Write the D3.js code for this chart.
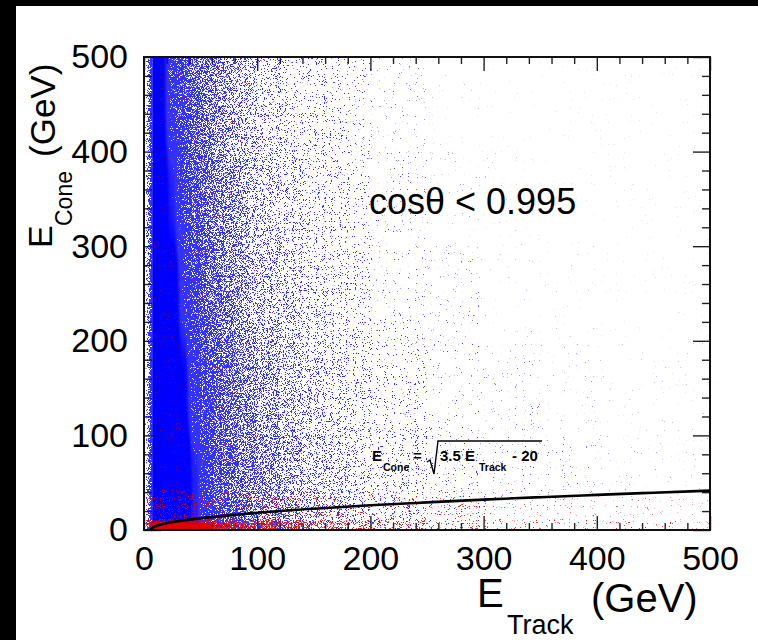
<!DOCTYPE html>
<html>
<head>
<meta charset="utf-8">
<script src="https://cdn.jsdelivr.net/npm/d3@7"></script>
<style>
body { margin: 0; background: #000; }
svg { display: block; }
text { font-family: "Liberation Sans", Arial, Helvetica, sans-serif; fill: #000; }
</style>
</head>
<body>
<svg width="758" height="640"></svg>
<script>
// x bins (GeV) shared by every density row
const xEdges = [0, 5, 10, 20, 30, 40, 50, 60, 70, 80, 90, 100, 120, 140, 160, 180, 200, 250, 300, 350, 400, 450, 500]

// blue population: fraction of pixels covered, one row per E_Cone band
const blueYEdges = [0, 100, 200, 300, 400, 500]
const blue0to100   = [0, 1, 1, 1, 1, 0.85, 0.7, 0.55, 0.48, 0.4, 0.35, 0.3, 0.22, 0.15, 0.12, 0.09, 0.06, 0.03, 0.02, 0.015, 0.012, 0.01]
const blue100to200 = [0, 1, 1, 1, 0.9, 0.75, 0.6, 0.5, 0.42, 0.35, 0.3, 0.24, 0.17, 0.12, 0.09, 0.07, 0.04, 0.02, 0.014, 0.01, 0.008, 0.006]
const blue200to300 = [0, 1, 1, 0.95, 0.8, 0.65, 0.5, 0.42, 0.35, 0.28, 0.22, 0.17, 0.12, 0.09, 0.065, 0.05, 0.025, 0.014, 0.009, 0.006, 0.004, 0.003]
const blue300to400 = [0, 1, 0.95, 0.85, 0.7, 0.55, 0.45, 0.36, 0.3, 0.24, 0.18, 0.13, 0.09, 0.07, 0.05, 0.04, 0.02, 0.011, 0.007, 0.004, 0.003, 0.002]
const blue400to500 = [0, 1, 0.9, 0.75, 0.6, 0.48, 0.38, 0.3, 0.24, 0.18, 0.14, 0.1, 0.07, 0.055, 0.04, 0.03, 0.016, 0.009, 0.005, 0.003, 0.002, 0.002]

// red population
const redYEdges = [0, 10, 40, 500]
const red0to10   = [0.4, 1, 1, 1, 1, 0.95, 0.9, 0.8, 0.7, 0.6, 0.5, 0.42, 0.32, 0.24, 0.18, 0.14, 0.1, 0.06, 0.045, 0.035, 0.028, 0.022]
const red10to40  = [0, 0.1, 0.1, 0.1, 0.09, 0.09, 0.08, 0.08, 0.07, 0.07, 0.06, 0.06, 0.05, 0.05, 0.045, 0.04, 0.035, 0.03, 0.025, 0.02, 0.015, 0.012]
const red40to500 = [0, 0.015, 0.015, 0.015, 0.015, 0.015, 0.015, 0.015, 0.015, 0.015, 0.012, 0.01, 0.009, 0.008, 0.007, 0.006, 0.005, 0.004, 0.003, 0.002, 0.002, 0.002]

// cut curve E_Cone = sqrt(3.5 E_Track - 20)
const cutTrack = [5.7, 7, 10, 15, 20, 30, 50, 75, 100, 150, 200, 250, 300, 350, 400, 450, 500]
const cutCone  = [0, 2.1, 3.9, 5.8, 7.1, 9.2, 12.4, 15.5, 18.2, 22.5, 26.1, 29.2, 32.1, 34.7, 37.1, 39.4, 41.6]

const majorTicks = [0, 100, 200, 300, 400, 500]
const minorTicks = d3.range(0, 501, 20).filter(v => v % 100 !== 0)

const margin = { left: 144, top: 57 }
const w = 566, h = 473

const svg = d3.select('svg')
svg.append('rect').attr('width', 758).attr('height', 640).attr('fill', '#fff')
svg.append('rect').attr('width', 758).attr('height', 6).attr('fill', '#000')
svg.append('rect').attr('width', 16).attr('height', 640).attr('fill', '#000')

const x = d3.scaleLinear().domain([0, 500]).range([0, w])
const y = d3.scaleLinear().domain([0, 500]).range([h, 0])

const g = svg.append('g').attr('transform', `translate(${margin.left}, ${margin.top})`)

// ticks, all pointing inwards
function tickAxis(axisFn, scale, vals, size, transform, labels) {
	let a = axisFn(scale).tickValues(vals).tickSizeInner(-size).tickSizeOuter(0)
	if (labels) a.tickPadding(16)
	else a.tickFormat('')
	let ag = g.append('g').attr('transform', transform).call(a)
	ag.select('.domain').remove()
	ag.selectAll('line').attr('stroke', '#222').attr('stroke-width', 1.4)
	ag.selectAll('text').attr('font-size', 34).attr('fill', '#000')
		.style('font-family', '"Liberation Sans", Arial, sans-serif')
	return ag
}
tickAxis(d3.axisBottom, x, minorTicks, 7, `translate(0,${h})`, false)
tickAxis(d3.axisBottom, x, majorTicks, 14, `translate(0,${h})`, true)
tickAxis(d3.axisTop, x, minorTicks, 7, 'translate(0,0)', false)
tickAxis(d3.axisTop, x, majorTicks, 14, 'translate(0,0)', false)
tickAxis(d3.axisLeft, y, minorTicks, 8, 'translate(0,0)', false)
tickAxis(d3.axisLeft, y, majorTicks, 17, 'translate(0,0)', true)
tickAxis(d3.axisRight, y, minorTicks, 8, `translate(${w},0)`, false)
tickAxis(d3.axisRight, y, majorTicks, 17, `translate(${w},0)`, false)

// speckle filter: blurred density compared against per-pixel noise
const defs = svg.append('defs')
// approx. CDF of the noise (topped at 0.96 so full cells come out solid)
const noiseCdf = [0, 0.0001, 0.0003, 0.0012, 0.0045, 0.015, 0.041, 0.0968, 0.192, 0.332, 0.5,
	0.668, 0.808, 0.9032, 0.959, 0.985, 0.9955, 0.9988, 0.9997, 0.9999, 1].map(v => v * 0.96)
// lift mid densities a little
const densLift = [0, 0.13, 0.26, 0.38, 0.5, 0.61, 0.71, 0.8, 0.88, 0.95, 1]

function speckle(id, color, blur, seed) {
	let f = defs.append('filter').attr('id', id)
		.attr('filterUnits', 'userSpaceOnUse')
		.attr('x', -70).attr('y', -70).attr('width', w + 140).attr('height', h + 140)
		.attr('color-interpolation-filters', 'linearRGB')
	f.append('feGaussianBlur').attr('in', 'SourceGraphic').attr('stdDeviation', blur).attr('result', 'dens0')
	// blur never quite gets back to 1, so scale up a bit
	f.append('feComponentTransfer').attr('in', 'dens0').attr('result', 'dens1')
		.append('feFuncA').attr('type', 'linear').attr('slope', 1.1).attr('intercept', 0)
	f.append('feComponentTransfer').attr('in', 'dens1').attr('result', 'dens')
		.append('feFuncA').attr('type', 'table').attr('tableValues', densLift.join(' '))
	f.append('feTurbulence').attr('type', 'fractalNoise').attr('baseFrequency', 1.13)
		.attr('numOctaves', 2).attr('seed', seed).attr('result', 'noise')
	f.append('feColorMatrix').attr('in', 'noise').attr('type', 'matrix')
		.attr('values', '0 0 0 0 0  0 0 0 0 0  0 0 0 0 0  1 0 0 0 0').attr('result', 'n')
	f.append('feComponentTransfer').attr('in', 'n').attr('result', 'nu')
		.append('feFuncA').attr('type', 'table').attr('tableValues', noiseCdf.join(' '))
	f.append('feComposite').attr('in', 'dens').attr('in2', 'nu').attr('operator', 'arithmetic')
		.attr('k1', 0).attr('k2', 1).attr('k3', -1).attr('k4', 0).attr('result', 'diff')
	f.append('feComponentTransfer').attr('in', 'diff').attr('result', 'mask')
		.append('feFuncA').attr('type', 'linear').attr('slope', 40).attr('intercept', 0)
	// where the density is near full the cloud is solid
	f.append('feComponentTransfer').attr('in', 'dens1').attr('result', 'solid')
		.append('feFuncA').attr('type', 'linear').attr('slope', 12).attr('intercept', -10.8)
	f.append('feFlood').attr('flood-color', color).attr('result', 'col')
	f.append('feComposite').attr('in', 'col').attr('in2', 'mask').attr('operator', 'in').attr('result', 'dots')
	f.append('feGaussianBlur').attr('in', 'dots').attr('stdDeviation', 0.35).attr('result', 'dotsb')
	// single points look a little lighter, as in the scanned plot
	f.append('feComponentTransfer').attr('in', 'dotsb').attr('result', 'dotsl')
		.append('feFuncA').attr('type', 'linear').attr('slope', 0.8).attr('intercept', 0)
	f.append('feComposite').attr('in', 'col').attr('in2', 'solid').attr('operator', 'in').attr('result', 'solidc')
	let merge = f.append('feMerge')
	merge.append('feMergeNode').attr('in', 'solidc')
	merge.append('feMergeNode').attr('in', 'dotsl')
}
speckle('speckle-blue', '#0000ff', '2.5 22', 3)
speckle('speckle-red', '#e00000', '2.5 1.5', 11)

defs.append('clipPath').attr('id', 'plot-clip')
	.append('rect').attr('width', w).attr('height', h)

function cells(rows, yEdges) {
	let out = []
	rows.forEach((row, j) => {
		row.forEach((v, i) => {
			out.push({ x0: xEdges[i], x1: xEdges[i + 1], y0: yEdges[j], y1: yEdges[j + 1], v: v })
		})
	})
	return out
}

function drawDensity(rows, yEdges, filterId) {
	let layer = g.append('g').attr('clip-path', 'url(#plot-clip)')
		.append('g').attr('filter', `url(#${filterId})`)
	layer.selectAll('rect')
		.data(cells(rows, yEdges))
		.enter()
		.append('rect')
		// edge cells run past the frame so the blur does not thin them
		.attr('x', d => x(d.x0))
		.attr('width', d => x(d.x1) - x(d.x0) + (d.x1 === 500 ? 60 : 0))
		.attr('y', d => y(d.y1) - (d.y1 === 500 ? 60 : 0))
		.attr('height', d => y(d.y0) - y(d.y1) + (d.y1 === 500 ? 60 : 0) + (d.y0 === 0 ? 60 : 0))
		.attr('shape-rendering', 'crispEdges')
		.attr('fill', '#000')
		.attr('fill-opacity', d => d.v)
}
drawDensity([blue0to100, blue100to200, blue200to300, blue300to400, blue400to500], blueYEdges, 'speckle-blue')
drawDensity([red0to10, red10to40, red40to500], redYEdges, 'speckle-red')

// frame
g.append('rect').attr('width', w).attr('height', h)
	.attr('fill', 'none').attr('stroke', '#111').attr('stroke-width', 2)

// cut curve
const line = d3.line()
	.x(d => x(d[0]))
	.y(d => y(d[1]))
	.curve(d3.curveMonotoneX)
g.append('path')
	.datum(cutTrack.map((t, i) => [t, cutCone[i]]))
	.attr('d', line)
	.attr('fill', 'none').attr('stroke', '#000').attr('stroke-width', 2.6)

// labels
svg.append('text').attr('x', 369).attr('y', 214).attr('font-size', 36).text('cosθ < 0.995')

// x title
svg.append('text').attr('x', 477).attr('y', 607).attr('font-size', 40).text('E')
svg.append('text').attr('x', 507).attr('y', 634).attr('font-size', 27).text('Track')
svg.append('text').attr('x', 591).attr('y', 612).attr('font-size', 40).text('(GeV)')

// y title
svg.append('text').attr('transform', 'translate(52,248) rotate(-90)').attr('font-size', 34).text('E')
svg.append('text').attr('transform', 'translate(72,226) rotate(-90)').attr('font-size', 23).text('Cone')
svg.append('text').attr('transform', 'translate(55,157) rotate(-90)').attr('font-size', 35).text('(GeV)')

// formula
const fg = svg.append('g').attr('font-weight', 'bold')
fg.append('text').attr('x', 372).attr('y', 461).attr('font-size', 15).text('E')
fg.append('text').attr('x', 383).attr('y', 471).attr('font-size', 10.5).text('Cone')
fg.append('text').attr('x', 413).attr('y', 461).attr('font-size', 15).text('=')
fg.append('path').attr('d', 'M427,462 L430,460 L434,474 L438,441 L542,441')
	.attr('fill', 'none').attr('stroke', '#000').attr('stroke-width', 1.4)
fg.append('text').attr('x', 440).attr('y', 461).attr('font-size', 15).text('3.5 E')
fg.append('text').attr('x', 479).attr('y', 471).attr('font-size', 10.5).text('Track')
fg.append('text').attr('x', 512).attr('y', 461).attr('font-size', 15).text('- 20')
</script>
</body>
</html>
